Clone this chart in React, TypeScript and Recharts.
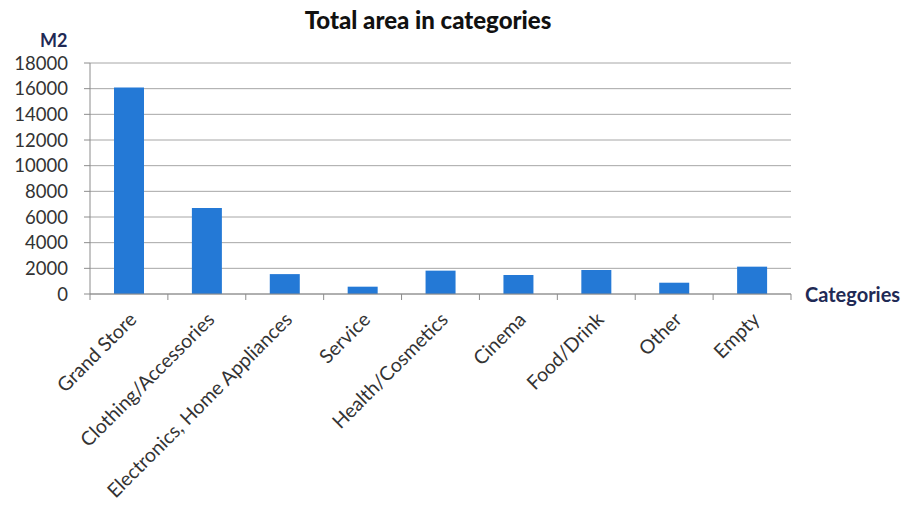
import * as React from "react";
import {
  BarChart,
  Bar,
  XAxis,
  YAxis,
  CartesianGrid,
} from "recharts";

const categories = [
  "Grand Store",
  "Clothing/Accessories",
  "Electronics, Home Appliances",
  "Service",
  "Health/Cosmetics",
  "Cinema",
  "Food/Drink",
  "Other",
  "Empty",
];
const areaValues = [16100, 6700, 1550, 570, 1820, 1480, 1870, 880, 2130];
const yTicks = [0, 2000, 4000, 6000, 8000, 10000, 12000, 14000, 16000, 18000];

const chartData = categories.map((name, i) => ({ name, area: areaValues[i] }));

const WIDTH = 905;
const HEIGHT = 508;
const PLOT_LEFT = 90;
const PLOT_RIGHT = 791;
const HALF_BAND = (PLOT_RIGHT - PLOT_LEFT) / categories.length / 2;
const FONT = "Lato, 'Open Sans', sans-serif";
const AXIS_GREY = "#8c8c8c";

function CategoryTick(props: any) {
  const { x, y, payload, index } = props;
  const last = index === categories.length - 1;
  return (
    <g transform={`translate(${x},${y})`}>
      <line x1={-HALF_BAND} y1={0} x2={-HALF_BAND} y2={6} stroke={AXIS_GREY} />
      {last && (
        <line x1={HALF_BAND} y1={0} x2={HALF_BAND} y2={6} stroke={AXIS_GREY} />
      )}
      <text
        transform="translate(4,22) rotate(-45)"
        textAnchor="end"
        dy="0.35em"
        fontFamily={FONT}
        fontSize={19.5}
        fill="#333"
      >
        {payload.value}
      </text>
    </g>
  );
}

export default function App() {
  return (
    <div
      style={{
        position: "absolute",
        left: 0,
        top: 0,
        width: WIDTH,
        height: HEIGHT,
        background: "#fff",
        fontFamily: FONT,
      }}
    >
      <div
        style={{
          position: "absolute",
          left: 0,
          width: 856,
          top: 5,
          textAlign: "center",
          fontWeight: 900,
          fontSize: 24,
          color: "#111",
        }}
      >
        Total area in categories
      </div>
      <div
        style={{
          position: "absolute",
          left: 40,
          top: 29,
          fontWeight: 700,
          fontSize: 18,
          color: "#1f2a55",
        }}
      >
        M2
      </div>
      <div
        style={{
          position: "absolute",
          left: 805,
          top: 282,
          fontWeight: 700,
          fontSize: 20,
          color: "#1f2a55",
        }}
      >
        Categories
      </div>
      <BarChart
        width={WIDTH}
        height={HEIGHT}
        data={chartData}
        margin={{ top: 63, right: WIDTH - PLOT_RIGHT, bottom: 14, left: 10 }}
        barSize={30}
      >
        <CartesianGrid vertical={false} stroke="#a6a6a6" />
        <XAxis
          dataKey="name"
          interval={0}
          height={200}
          tickSize={0}
          tickMargin={0}
          stroke={AXIS_GREY}
          tick={<CategoryTick />}
        />
        <YAxis
          width={80}
          domain={[0, 18000]}
          ticks={yTicks}
          interval={0}
          tickSize={6}
          tickMargin={16}
          stroke={AXIS_GREY}
          tick={{ fill: "#333", fontSize: 18.5, fontFamily: FONT }}
        />
        <Bar dataKey="area" fill="#2479d6" isAnimationActive={false} />
      </BarChart>
    </div>
  );
}
